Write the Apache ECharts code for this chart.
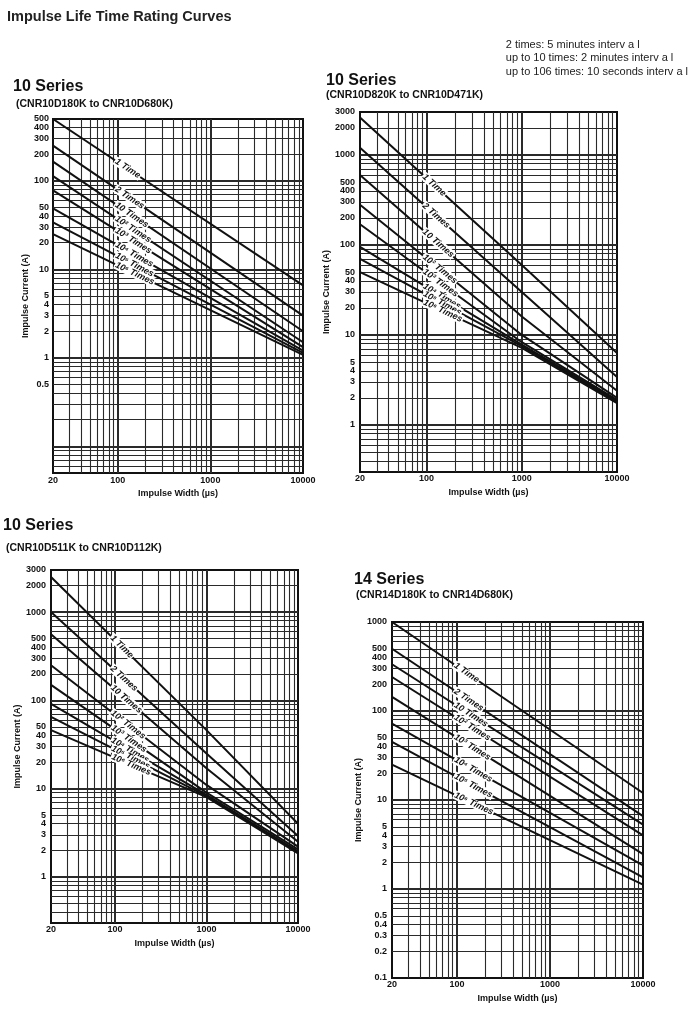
<!DOCTYPE html>
<html><head><meta charset="utf-8">
<script src="https://cdn.jsdelivr.net/npm/echarts@6/dist/echarts.min.js"></script>
<style>html,body{margin:0;padding:0;background:#fff}#c{width:700px;height:1027px}</style>
</head><body><div id="c"></div>
<script>
// ---------- DATA ----------
const seriesNames = ['1 Time', '2 Times', '10 Times', '10\u00B2 Times', '10\u00B3 Times', '10\u2074 Times', '10\u2075 Times', '10\u2076 Times'];
const xTickLabels = [20, 100, 1000, 10000];

// Panel 1: 10 Series (CNR10D180K to CNR10D680K)
const p1X = [20, 10000];
const p1Start = [500, 250, 165, 113, 78, 49, 34, 25];
const p1End = [6.6, 3.0, 2.0, 1.5, 1.32, 1.21, 1.14, 1.08];
const p1YLabels = [500, 400, 300, 200, 100, 50, 40, 30, 20, 10, 5, 4, 3, 2, 1, 0.5];

// Panel 2: 10 Series (CNR10D820K to CNR10D471K)
const p2X = [20, 1000, 10000];
const p2Start = [2600, 1200, 600, 280, 170, 95, 70, 50];
const p2At1000 = [60, 30, 16, 10, 8.3, 7.8, 7.5, 7.2];
const p2End = [6.3, 3.4, 2.4, 2.0, 1.9, 1.85, 1.8, 1.75];
const p2YLabels = [3000, 2000, 1000, 500, 400, 300, 200, 100, 50, 40, 30, 20, 10, 5, 4, 3, 2, 1];

// Panel 3: 10 Series (CNR10D511K to CNR10D112K)
const p3X = [20, 1000, 10000];
const p3Start = [2500, 1000, 560, 250, 150, 91, 65, 46];
const p3At1000 = [46, 25, 17, 11, 9, 8.5, 8.2, 8.0];
const p3End = [4.0, 2.9, 2.5, 2.2, 2.05, 1.95, 1.9, 1.85];
const p3YLabels = [3000, 2000, 1000, 500, 400, 300, 200, 100, 50, 40, 30, 20, 10, 5, 4, 3, 2, 1];

// Panel 4: 14 Series (CNR14D180K to CNR14D680K)
const p4X = [20, 10000];
const p4Start = [1000, 500, 335, 241, 144, 72, 45, 25];
const p4End = [12, 6.6, 5.3, 4.0, 2.46, 1.84, 1.35, 1.12];
const p4YLabels = [1000, 500, 400, 300, 200, 100, 50, 40, 30, 20, 10, 5, 4, 3, 2, 1, 0.5, 0.4, 0.3, 0.2, 0.1];

const panels = [
  { xs: p1X, cols: [p1Start, p1End], yMin: 0.05, yMax: 500, yLabels: p1YLabels, title: '10 Series', sub: '(CNR10D180K to CNR10D680K)' },
  { xs: p2X, cols: [p2Start, p2At1000, p2End], yMin: 0.3, yMax: 3000, yLabels: p2YLabels, title: '10 Series', sub: '(CNR10D820K to CNR10D471K)' },
  { xs: p3X, cols: [p3Start, p3At1000, p3End], yMin: 0.3, yMax: 3000, yLabels: p3YLabels, title: '10 Series', sub: '(CNR10D511K to CNR10D112K)' },
  { xs: p4X, cols: [p4Start, p4End], yMin: 0.1, yMax: 1000, yLabels: p4YLabels, title: '14 Series', sub: '(CNR14D180K to CNR14D680K)' }
];

// ---------- LAYOUT / STYLE ----------
const FONT = '"Liberation Sans", Arial, Helvetica, sans-serif';
const layout = [
  { grid: { left: 53, top: 119, width: 250, height: 354 }, yGap: 23, yMargin: 4, xMargin: 3, xGap: 16, t: [13, 78], s: [16, 98], dx: 62 },
  { grid: { left: 360, top: 112, width: 257, height: 360 }, yGap: 29, yMargin: 5, xMargin: 2, xGap: 16, t: [326, 71.5], s: [326, 89], dx: 63 },
  { grid: { left: 51, top: 570, width: 247, height: 353 }, yGap: 25, yMargin: 5, xMargin: 2, xGap: 16, t: [3, 517], s: [6, 542], dx: 60 },
  { grid: { left: 392, top: 622, width: 251, height: 356 }, yGap: 26, yMargin: 5, xMargin: 2, xGap: 16, t: [354, 571], s: [356, 589], dx: 62 }
];

function gridValues(min, max) {
  const out = [];
  for (let e = Math.floor(Math.log10(min)) - 1; e <= Math.ceil(Math.log10(max)); e++) {
    for (let m = 1; m <= 9; m++) {
      const v = +(m * Math.pow(10, e)).toPrecision(6);
      if (v > min * 1.0001 && v < max * 0.9999) out.push({ v: v, major: m === 1 });
    }
  }
  return out;
}
const fmt = v => String(+(+v).toPrecision(4));
// keep end labels just inside the axis extent (floating point guard)
const inside = (vals, lo, hi) => vals.map(v => v >= hi ? v * 0.99999 : (v <= lo ? v * 1.00001 : v));
// order labels so the first/last pairs are well separated (all labels are shown)
const spread = vals => { const a = vals.slice(); const mid = a.splice(Math.floor(a.length / 2), 1); return mid.concat(a); };

const titles = [
  { text: 'Impulse Life Time Rating Curves', left: 7, top: 8.5, padding: 0,
    textStyle: { fontFamily: FONT, fontSize: 14.5, fontWeight: 'bold', color: '#222', lineHeight: 16 } },
  { text: '2 times: 5 minutes interv a l\nup to 10 times: 2 minutes interv a l\nup to 106 times: 10 seconds interv a l',
    right: 12, top: 38, padding: 0,
    textStyle: { fontFamily: FONT, fontSize: 11, fontWeight: 'normal', color: '#222', lineHeight: 13.5 } }
];
panels.forEach((p, i) => {
  const L = layout[i];
  titles.push({ text: p.title, left: L.t[0], top: L.t[1], padding: 0,
    textStyle: { fontFamily: FONT, fontSize: 16, fontWeight: 'bold', color: '#111', lineHeight: 18 } });
  titles.push({ text: p.sub, left: L.s[0], top: L.s[1], padding: 0,
    textStyle: { fontFamily: FONT, fontSize: 10.5, fontWeight: 'bold', color: '#111', lineHeight: 12 } });
});

const series = [];
const curveMeta = [];
panels.forEach((p, g) => {
  // log-paper grid lines
  const gl = [];
  gridValues(20, 10000).forEach(o => gl.push({ xAxis: o.v, lineStyle: { width: o.major ? 2 : 1.1 } }));
  gridValues(p.yMin, p.yMax).forEach(o => gl.push({ yAxis: o.v, lineStyle: { width: o.major ? 2 : 1.1 } }));
  series.push({
    id: 'grid' + g, type: 'line', xAxisIndex: g, yAxisIndex: g, data: [], silent: true, z: 1,
    markLine: { silent: true, symbol: 'none', z: 1, precision: 4, animation: false,
      label: { show: false }, lineStyle: { color: '#2a2a2a', width: 1, type: 'solid' }, data: gl }
  });
  // rating curves
  seriesNames.forEach((name, k) => {
    const pts = p.xs.map((x, j) => [x, p.cols[j][k]]);
    const id = 'c' + g + '_' + k;
    curveMeta.push({ id: id, g: g, a: pts[0], b: pts[1], dx: layout[g].dx });
    series.push({
      id: id, name: name, type: 'line', xAxisIndex: g, yAxisIndex: g, data: pts,
      symbol: 'none', showSymbol: false, silent: true, z: 3,
      lineStyle: { color: '#111', width: 2 },
      markLine: {
        silent: true, symbol: 'none', z: 6, animation: false,
        lineStyle: { color: 'rgba(0,0,0,0)', width: 0 },
        label: { show: true, position: 'insideStart', distance: 60, formatter: name,
          fontFamily: FONT, fontSize: 9, fontWeight: 'bold', fontStyle: 'italic', color: '#111',
          backgroundColor: '#fff', padding: [0, 1], opacity: 1 },
        data: [[{ coord: pts[0] }, { coord: pts[1] }]]
      }
    });
  });
});

const option = {
  backgroundColor: '#fff',
  animation: false,
  title: titles,
  grid: layout.map(L => Object.assign({}, L.grid, { show: true, borderColor: '#111', borderWidth: 2, backgroundColor: 'transparent', containLabel: false })),
  xAxis: panels.map((p, i) => ({
    type: 'log', logBase: 10, gridIndex: i, min: 20, max: 10000,
    axisLine: { show: false }, axisTick: { show: false }, splitLine: { show: false },
    axisLabel: { customValues: inside(xTickLabels, 20, 10000), formatter: fmt, showMinLabel: true, showMaxLabel: true, hideOverlap: false,
      fontFamily: FONT, fontSize: 9, fontWeight: 'bold', color: '#111', margin: layout[i].xMargin },
    name: 'Impulse Width (\u00B5s)', nameLocation: 'middle', nameGap: layout[i].xGap,
    nameTextStyle: { fontFamily: FONT, fontSize: 9, fontWeight: 'bold', color: '#111' }
  })),
  yAxis: panels.map((p, i) => ({
    type: 'log', logBase: 10, gridIndex: i, min: p.yMin, max: p.yMax,
    axisLine: { show: false }, axisTick: { show: false }, splitLine: { show: false },
    axisLabel: { customValues: spread(inside(p.yLabels, p.yMin, p.yMax)), formatter: fmt, showMinLabel: true, showMaxLabel: true, hideOverlap: false,
      fontFamily: FONT, fontSize: 9, fontWeight: 'bold', color: '#111', margin: layout[i].yMargin },
    name: 'Impulse Current (A)', nameLocation: 'middle', nameRotate: 90, nameGap: layout[i].yGap,
    nameTextStyle: { fontFamily: FONT, fontSize: 9, fontWeight: 'bold', color: '#111' }
  })),
  series: series
};

const chart = echarts.init(document.getElementById('c'), null, { width: 700, height: 1027 });
chart.setOption(option);

// place curve labels a fixed horizontal offset from the plot's left edge, along each curve
const upd = curveMeta.map(m => {
  const p0 = chart.convertToPixel({ gridIndex: m.g }, m.a);
  const p1 = chart.convertToPixel({ gridIndex: m.g }, m.b);
  const s = (p1[1] - p0[1]) / (p1[0] - p0[0]);
  return { id: m.id, markLine: { label: { distance: m.dx * Math.sqrt(1 + s * s) } } };
});
chart.setOption({ series: upd });
</script>
</body></html>
